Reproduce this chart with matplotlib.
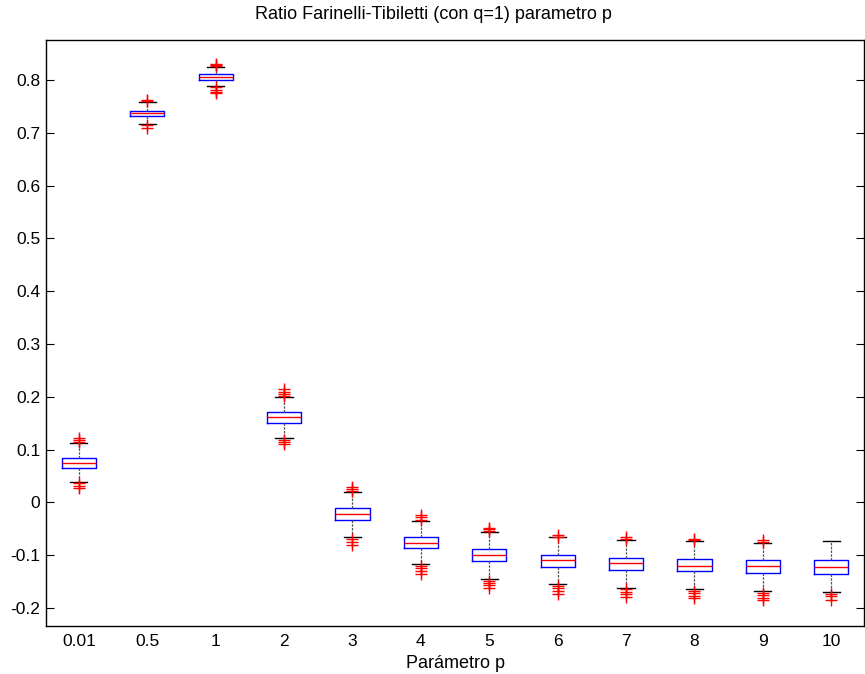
import matplotlib.pyplot as plt
import numpy as np

plt.rcParams['font.family'] = ['Liberation Sans', 'DejaVu Sans']

# parameter p labels
labels = ['0.01', '0.5', '1', '2', '3', '4', '5', '6', '7', '8', '9', '10']

# box stats
med = [0.0749, 0.7378, 0.8065, 0.1614, -0.0220, -0.0764, -0.0997, -0.1097, -0.1148, -0.1200, -0.1200, -0.1224]
q1 = [0.0662, 0.7314, 0.8008, 0.1513, -0.0340, -0.0870, -0.1116, -0.1230, -0.1280, -0.1305, -0.1332, -0.1356]
q3 = [0.0851, 0.7420, 0.8116, 0.1722, -0.0110, -0.0662, -0.0889, -0.0991, -0.1048, -0.1073, -0.1097, -0.1097]
wlo = [0.0390, 0.7170, 0.7880, 0.1230, -0.0660, -0.1173, -0.1451, -0.1551, -0.1615, -0.1640, -0.1684, -0.1703]
whi = [0.1128, 0.7580, 0.8248, 0.1998, 0.0190, -0.0354, -0.0556, -0.0662, -0.0707, -0.0738, -0.0764, -0.0738]

# outliers (red +)
out_hi = [[0.115, 0.118, 0.122],
          [0.760, 0.763],
          [0.826, 0.828, 0.831],
          [0.202, 0.206, 0.210, 0.215],
          [0.021, 0.025, 0.030],
          [-0.033, -0.028, -0.023],
          [-0.054, -0.051, -0.048],
          [-0.065, -0.062],
          [-0.069, -0.066],
          [-0.072, -0.069],
          [-0.075, -0.072],
          []]
out_lo = [[0.036, 0.032, 0.028],
          [0.715, 0.710],
          [0.786, 0.782, 0.778, 0.775],
          [0.119, 0.115, 0.111],
          [-0.069, -0.075, -0.081],
          [-0.120, -0.124, -0.129, -0.135],
          [-0.148, -0.152, -0.157, -0.162],
          [-0.158, -0.162, -0.167, -0.173],
          [-0.164, -0.169, -0.174, -0.179],
          [-0.167, -0.172, -0.177, -0.181],
          [-0.171, -0.176, -0.180, -0.184],
          [-0.173, -0.178, -0.185]]

stats = []
for i in range(len(labels)):
    stats.append({'med': med[i], 'q1': q1[i], 'q3': q3[i],
                  'whislo': wlo[i], 'whishi': whi[i],
                  'fliers': np.array(out_hi[i] + out_lo[i]), 'label': labels[i]})

fig = plt.figure(figsize=(8.65, 6.74), dpi=100)
ax = fig.add_axes([0.0532, 0.0712, 0.9457, 0.8695])

ax.bxp(stats, positions=range(1, 13), widths=0.5,
       boxprops=dict(color='blue', linewidth=1),
       medianprops=dict(color='red', linewidth=1),
       whiskerprops=dict(color='#555555', linestyle='--', linewidth=0.9, dashes=(2, 1)),
       capprops=dict(color='black', linewidth=1),
       flierprops=dict(marker='+', markeredgecolor='red', markersize=9, markeredgewidth=1),
       capwidths=0.25)

ax.set_xlim(0.52, 12.48)
ax.set_ylim(-0.234, 0.876)
ax.set_yticks([-0.2, -0.1, 0, 0.1, 0.2, 0.3, 0.4, 0.5, 0.6, 0.7, 0.8])
ax.set_yticklabels(['-0.2', '-0.1', '0', '0.1', '0.2', '0.3', '0.4', '0.5', '0.6', '0.7', '0.8'])
ax.tick_params(axis='y', direction='in', right=True, length=6, labelsize=12.5, pad=4)
ax.tick_params(axis='x', length=0, labelsize=12.5, pad=6)
for s in ax.spines.values():
    s.set_linewidth(1)

ax.set_title('Ratio Farinelli-Tibiletti (con q=1) parametro p', fontsize=13, pad=15, x=0.474)
ax.set_xlabel('Parámetro p', fontsize=13, labelpad=4)

fig.savefig('out.png', dpi=100)
